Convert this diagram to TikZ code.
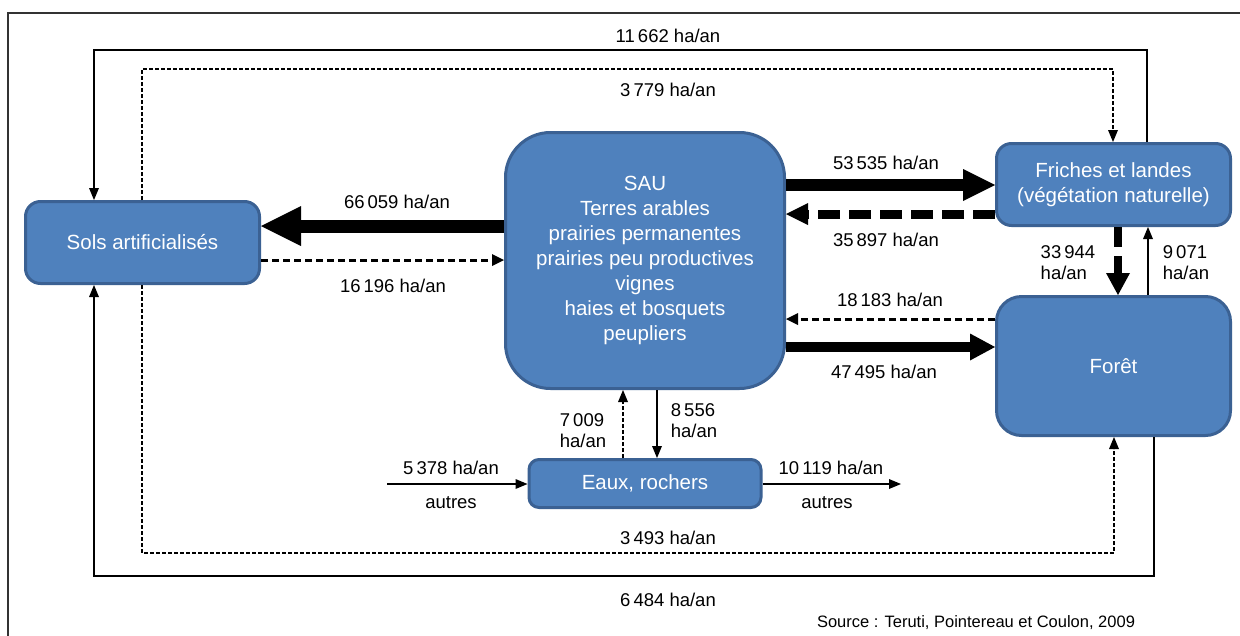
\documentclass[tikz,border=0pt]{standalone}
\usepackage{fontspec}
\setmainfont{Liberation Sans}
\usetikzlibrary{arrows.meta}
\definecolor{boxfill}{HTML}{4F81BD}
\definecolor{boxline}{HTML}{3B6193}
\definecolor{framecol}{HTML}{333333}
\begin{document}
\begin{tikzpicture}[x=1pt,y=-1pt,
  box/.style={draw=boxline, line width=3pt, fill=boxfill, text=white, inner sep=0pt,
    font=\fontsize{20.5}{25}\selectfont, align=center},
  lab/.style={font=\fontsize{18.5}{21}\selectfont, inner sep=0pt, align=left},
  src/.style={font=\fontsize{16.5}{19}\selectfont, inner sep=0pt},
  hugearrow/.style={line width=13pt, -{Triangle[length=40pt,width=40pt,line width=0pt]}},
  bigarrow/.style={line width=12pt, -{Triangle[length=32pt,width=32pt,line width=0pt]}},
  bigarrowb/.style={line width=10pt, -{Triangle[length=25pt,width=27pt,line width=0pt]}},
  thickdash/.style={line width=9pt, dash pattern=on 22pt off 9pt, -{Triangle[length=22pt,width=22pt,line width=0pt]}},
  thickdashv/.style={line width=8pt, dash pattern=on 20pt off 9pt, -{Triangle[length=22pt,width=24pt,line width=0pt]}},
  meddash/.style={line width=3pt, dash pattern=on 7pt off 4pt, -{Triangle[length=12pt,width=12pt,line width=0pt]}},
  thinarrow/.style={line width=1.5pt, -{Triangle[length=12pt,width=10pt,line width=0pt]}},
  thindash/.style={line width=1.2pt, dash pattern=on 4pt off 2pt, -{Triangle[length=12pt,width=10pt,line width=0pt]}},
]
\useasboundingbox (0,0) rectangle (1240,635);
% frame
\coordinate (f1) at (8,660);
\coordinate (f2) at (8,13);
\coordinate (f3) at (1260,13);
\draw[framecol, line width=1.5pt] (f1) -- (f2) -- (f3);

% boxes
\node[box, rounded corners=15pt, minimum width=234pt, minimum height=82pt] (sols) at (142.5,242.5) {Sols artificialisés};
\node[box, rounded corners=45pt, minimum width=279pt, minimum height=256pt] (sau) at (645,260.5)
  {SAU\\Terres arables\\prairies permanentes\\prairies peu productives\\vignes\\haies et bosquets\\peupliers};
\node[box, rounded corners=15pt, minimum width=234pt, minimum height=82pt] (fri) at (1113.5,184.5)
  {Friches et landes\\(végétation naturelle)};
\node[box, rounded corners=25pt, minimum width=234pt, minimum height=139pt] (foret) at (1113.5,366) {Forêt};
\node[box, rounded corners=10pt, minimum width=232pt, minimum height=48pt] (eaux) at (645,483.5) {Eaux, rochers};

% helper coordinates
\coordinate (tl1) at (94,50);
\coordinate (tr1) at (1147,50);
\coordinate (tl2) at (142,69);
\coordinate (tr2) at (1113,69);
\coordinate (bl2) at (142,553);
\coordinate (br2) at (1114,553);
\coordinate (bl1) at (94,576);
\coordinate (br1) at (1154,576);
\coordinate (in5378) at (387,484);
\coordinate (out10119) at (901,484);
\coordinate (h226) at (0,226);
\coordinate (h260) at (0,260);
\coordinate (h185) at (0,185);
\coordinate (h214) at (0,214);
\coordinate (h319) at (0,319);
\coordinate (h347) at (0,347);
\coordinate (v1118) at (1118,0);
\coordinate (v1148) at (1148,0);
\coordinate (v657) at (657,0);
\coordinate (v623) at (623,0);

% long loops
\draw[thinarrow, line width=2.2pt] (fri.north -| tr1) -- (tr1) -- (tl1) -- (sols.north -| tl1);
\draw[thindash] (sols.north -| tl2) -- (tl2) -- (tr2) -- (fri.north -| tr2);
\draw[thindash] (sols.south -| bl2) -- (bl2) -- (br2) -- (foret.south -| br2);
\draw[thinarrow] (foret.south -| br1) -- (br1) -- (bl1) -- (sols.south -| bl1);

% SAU <-> Sols
\draw[hugearrow] (sau.west |- h226) -- (sols.east |- h226);
\draw[meddash] (sols.east |- h260) -- (sau.west |- h260);
% SAU <-> Friches
\draw[bigarrow] (sau.east |- h185) -- (fri.west |- h185);
\draw[thickdash] (fri.west |- h214) -- (sau.east |- h214);
% SAU <-> Foret
\draw[meddash] (foret.west |- h319) -- (sau.east |- h319);
\draw[bigarrowb] (sau.east |- h347) -- (foret.west |- h347);
% Friches <-> Foret
\draw[thickdashv] (fri.south -| v1118) -- (foret.north -| v1118);
\draw[thinarrow] (foret.north -| v1148) -- (fri.south -| v1148);
% SAU <-> Eaux
\draw[thinarrow] (sau.south -| v657) -- (eaux.north -| v657);
\draw[thindash] (eaux.north -| v623) -- (sau.south -| v623);
% autres
\draw[thinarrow] (in5378) -- (eaux.west |- in5378);
\draw[thinarrow] (eaux.east |- out10119) -- (out10119);

% labels
\node[lab] (l11662) at (668,36) {11\,662 ha/an};
\node[lab] (l3779) at (668,90) {3\,779 ha/an};
\node[lab] (l66059) at (397,202) {66\,059 ha/an};
\node[lab] (l16196) at (393,286) {16\,196 ha/an};
\node[lab] (l53535) at (886,163) {53\,535 ha/an};
\node[lab] (l35897) at (886,240) {35\,897 ha/an};
\node[lab] (l18183) at (890,300) {18\,183 ha/an};
\node[lab] (l47495) at (884,372) {47\,495 ha/an};
\node[lab] (l33944) at (1068,263) {33\,944\\ha/an};
\node[lab] (l9071) at (1186,263) {9\,071\\ha/an};
\node[lab] (l7009) at (583,431) {7\,009\\ha/an};
\node[lab] (l8556) at (694,421) {8\,556\\ha/an};
\node[lab] (l5378) at (451,468) {5\,378 ha/an};
\node[lab] (la1) at (451,503) {autres};
\node[lab] (l10119) at (831,468) {10\,119 ha/an};
\node[lab] (la2) at (827,503) {autres};
\node[lab] (l3493) at (668,538) {3\,493 ha/an};
\node[lab] (l6484) at (668,600) {6\,484 ha/an};
\node[src] (source) at (976,623) {Source : Teruti, Pointereau et Coulon, 2009};
\end{tikzpicture}
\end{document}
